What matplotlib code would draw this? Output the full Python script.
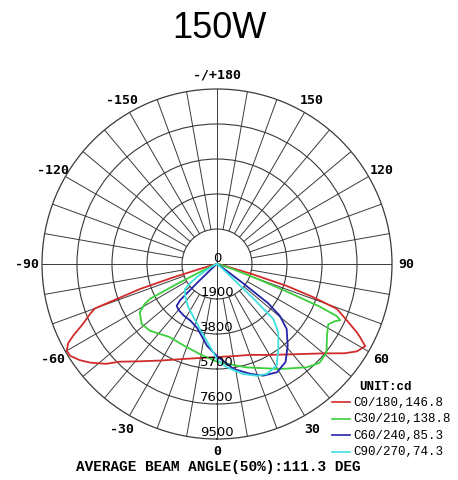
import numpy as np
import matplotlib.pyplot as plt
from matplotlib.lines import Line2D

# luminous intensity (cd) vs gamma angle (deg)
# right half = C0/C30/C60/C90, left half = C180/C210/C240/C270
c0_gamma = [0, 10, 20, 30, 40, 45, 50, 55, 58, 61, 63, 64, 66.5, 69.5, 71, 72.5, 74, 76, 80, 90]
c0_cd = [5050, 5080, 5250, 5700, 6400, 6900, 7550, 8450, 8950, 9200, 8700, 8440, 7690, 6940, 5500, 4000, 2000, 500, 100, 0]
c180_gamma = [0, 10, 20, 30, 39, 45, 48, 52, 55, 58, 60, 62, 63.5, 66, 68.5, 70, 72, 73, 74, 75, 80, 90]
c180_cd = [5050, 5180, 5490, 6050, 6800, 7500, 8100, 8700, 9100, 9400, 9420, 9150, 8720, 7950, 7410, 7050, 4400, 2500, 900, 300, 50, 0]

c30_gamma = [0, 7, 16, 31, 41, 46, 51, 57, 61.5, 64, 65.5, 66.5, 67.5, 68.5, 70, 72, 75, 80, 90]
c30_cd = [5300, 5480, 5840, 6650, 7430, 7730, 7650, 7120, 6870, 7100, 7350, 7080, 6000, 4000, 2200, 900, 300, 80, 0]
c210_gamma = [0, 10, 22, 33, 45, 51.5, 58, 61, 62.5, 63.5, 64.5, 66, 70, 80, 90]
c210_cd = [5300, 5000, 4780, 4730, 5130, 5230, 4940, 4500, 4100, 2500, 1200, 400, 100, 20, 0]

c60_gamma = [0, 9, 17, 22.5, 29, 35, 41, 47, 50.5, 52.5, 53.5, 55, 58, 65, 90]
c60_cd = [5000, 5770, 6240, 6560, 6720, 6490, 5850, 5170, 4420, 3500, 1800, 600, 200, 50, 0]
c240_gamma = [0, 7, 17, 25, 33, 40, 44, 45.5, 46.5, 48, 55, 65, 90]
c240_cd = [5000, 4470, 3650, 3400, 3330, 3250, 3150, 2800, 1500, 500, 100, 30, 0]

c90_gamma = [0, 5.4, 13.4, 19.6, 24.3, 30.4, 35.8, 41.9, 45.7, 46.5, 47.5, 49, 52, 60, 90]
c90_cd = [5200, 5630, 6140, 6440, 6550, 6400, 5690, 4980, 4270, 2700, 1200, 500, 200, 50, 0]
c270_gamma = [0, 2.4, 14.7, 25, 33.5, 45, 52, 55, 57, 60, 70, 90]
c270_cd = [5200, 4800, 3650, 3100, 2820, 2450, 2200, 1700, 1300, 700, 150, 0]

legend_labels = ['C0/180,146.8', 'C30/210,138.8', 'C60/240,85.3', 'C90/270,74.3']
colors = ['#d22b2b', '#3ccf3c', '#2424a8', '#3fe0e0']
rings = [1900, 3800, 5700, 7600, 9500]
angle_ticks = [0, 30, 60, 90, 120, 150, 180, -150, -120, -90, -60, -30]
angle_labels = ['0', '30', '60', '90', '120', '150', '-/+180', '-150', '-120', '-90', '-60', '-30']

W, H = 458, 481
fig = plt.figure(figsize=(W / 100, H / 100), dpi=100)

# polar area: centre (217, 265) px, radius 175 px
cx, cy, rad = 217, 265, 175
ax = fig.add_axes([(cx - rad) / W, 1 - (cy + rad) / H, 2 * rad / W, 2 * rad / H], projection='polar')
ax.set_theta_zero_location('S')
ax.set_theta_direction(1)
ax.set_ylim(0, rings[-1])
ax.set_xticks([])
ax.set_yticks(rings[:-1])
ax.set_yticklabels([])
grid_c = '#3a3a3a'
ax.yaxis.grid(True, color=grid_c, lw=0.8)
ax.xaxis.grid(False)
ax.spines['polar'].set_color(grid_c)
ax.spines['polar'].set_linewidth(0.9)

# spokes every 10 deg from the first ring, full axes through the centre
for a in range(0, 360, 10):
    t = np.deg2rad(a)
    r0 = 0 if a % 90 == 0 else rings[0]
    ax.plot([t, t], [r0, rings[-1]], color=grid_c, lw=0.7, zorder=1)

# curves
pairs = [(c0_gamma, c0_cd, c180_gamma, c180_cd),
         (c30_gamma, c30_cd, c210_gamma, c210_cd),
         (c60_gamma, c60_cd, c240_gamma, c240_cd),
         (c90_gamma, c90_cd, c270_gamma, c270_cd)]
for (rg, rv, lg, lv), col in zip(pairs, colors):
    th = np.deg2rad(np.concatenate([-np.array(lg[::-1]), np.array(rg[1:])]))
    rr = np.concatenate([np.array(lv[::-1]), np.array(rv[1:])])
    ax.plot(th, rr, color=col, lw=1.3, zorder=3)

# ring values along the lower vertical
ax.text(np.pi, 380, '0', ha='center', va='center', fontsize=9.5, family='DejaVu Sans', zorder=4)
for r in rings:
    ax.text(0, r - 400, str(r), ha='center', va='center', fontsize=9.5, family='DejaVu Sans', zorder=4)

# angle labels
for a, lab in zip(angle_ticks, angle_labels):
    rl = 10300 if a != 0 else 10150
    ax.text(np.deg2rad(a), rl, lab, ha='center', va='center', fontsize=9.5,
            family='DejaVu Sans Mono', fontweight='bold', clip_on=False)

fig.text(219 / W, 1 - 28 / H, '150W', ha='center', va='center', fontsize=26, family='Liberation Sans')
fig.text(218 / W, 1 - 467 / H, 'AVERAGE BEAM ANGLE(50%):111.3 DEG', ha='center', va='center',
         fontsize=10.4, family='Liberation Mono', fontweight='bold')

# legend
fig.text(386 / W, 1 - 387 / H, 'UNIT:cd', ha='center', va='center', fontsize=9,
         family='Liberation Mono', fontweight='bold')
for i, (lab, col) in enumerate(zip(legend_labels, colors)):
    y = 1 - (403 + 16.5 * i) / H
    fig.add_artist(Line2D([332 / W, 350 / W], [y, y], color=col, lw=1.2))
    fig.text(353 / W, y, lab, ha='left', va='center', fontsize=9, family='Liberation Mono')

fig.savefig('out.png', dpi=100)
